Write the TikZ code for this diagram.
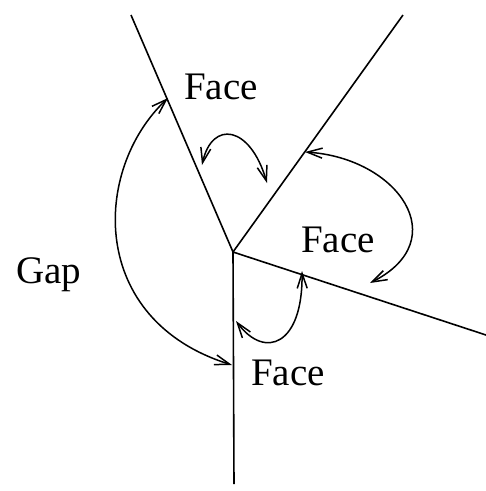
\documentclass[tikz,border=0pt]{standalone}
\usepackage{fontspec}
\setmainfont{Liberation Serif}
\usetikzlibrary{arrows.meta}
\begin{document}
\begin{tikzpicture}[x=1pt,y=-1pt,
  edge/.style={line width=1.6pt},
  arc/.style={line width=1.5pt,{Straight Barb[length=15pt,width=10pt]}-{Straight Barb[length=15pt,width=10pt]}},
  lbl/.style={font=\fontsize{39}{46}\selectfont,inner sep=0pt,anchor=base west}]
\useasboundingbox (0,0) rectangle (486,491);
\coordinate (c) at (233,252);
\coordinate (ul) at (131,15);
\coordinate (ur) at (403,15);
\coordinate (r) at (486,335);
\coordinate (d) at (234,484);
\draw[edge] (c) -- (ul);
\draw[edge] (c) -- (ur);
\draw[edge] (c) -- (r);
\draw[edge] (c) -- (d);
% arc end points
\coordinate (g1) at (168,98);
\coordinate (g2) at (232,365);
\coordinate (t1) at (202,165);
\coordinate (t2) at (267,183);
\coordinate (r1) at (305,152);
\coordinate (r2) at (370,283);
\coordinate (b1) at (302,271);
\coordinate (b2) at (236,321);
\draw[arc] (g1) .. controls (92,170) and (88,320) .. (g2);
\draw[arc] (t1) .. controls (212,120) and (250,125) .. (t2);
\draw[arc] (r1) .. controls (398,158) and (455,240) .. (r2);
\draw[arc] (b1) .. controls (303,345) and (265,360) .. (b2);
\node[lbl] (ftop) at (184,99) {Face};
\node[lbl] (fright) at (301,252) {Face};
\node[lbl] (fbot) at (251,385) {Face};
\node[lbl] (gap) at (16,283) {Gap};
\end{tikzpicture}
\end{document}
